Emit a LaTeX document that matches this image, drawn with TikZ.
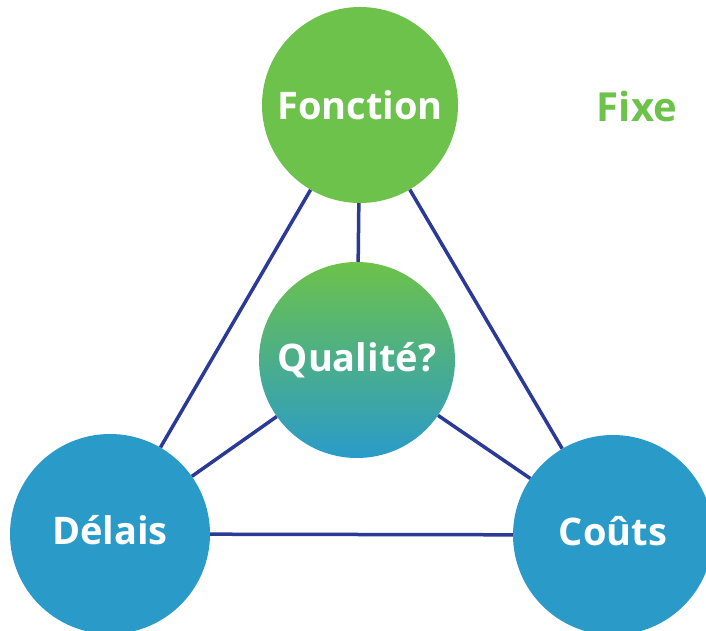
\documentclass[tikz,border=0pt]{standalone}
\usepackage{fontspec}
\setmainfont{Open Sans}
\definecolor{cgreen}{HTML}{6CC24A}
\definecolor{cblue}{HTML}{2A9BC9}
\definecolor{cline}{HTML}{2B3A97}
\begin{document}
\begin{tikzpicture}[x=1pt,y=-1pt,
  ball/.style={circle,minimum size=196pt,inner sep=0pt,text=white,font=\fontsize{38}{40}\selectfont\bfseries},
  link/.style={draw=cline,line width=3.5pt}]
\useasboundingbox (0,0) rectangle (706,631);
\node[ball,fill=cgreen] (f) at (360,105) {Fonction};
\node[ball,top color=cgreen,bottom color=cblue,shading angle=0] (q) at (357,360) {Qualité?};
\node[ball,fill=cblue,minimum size=200pt,text depth=8pt] (d) at (110,534) {Délais};
\node[ball,fill=cblue,minimum size=200pt,text depth=8pt] (c) at (613,535) {Coûts};
\node[text=cgreen,font=\fontsize{40}{42}\selectfont\bfseries] (x) at (637,107) {Fixe};
\draw[link] (f) -- (d);
\draw[link] (f) -- (c);
\draw[link] (f) -- (q);
\draw[link] (q) -- (d);
\draw[link] (q) -- (c);
\draw[link] (d) -- (c);
\end{tikzpicture}
\end{document}
